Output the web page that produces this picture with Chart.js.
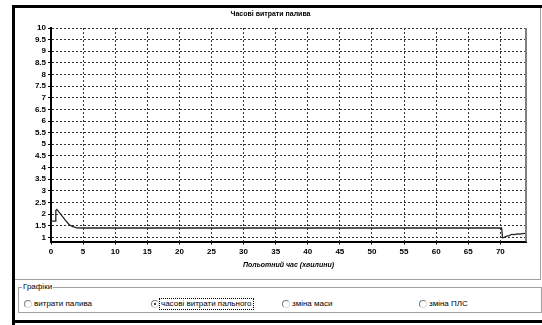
<!DOCTYPE html>
<html>
<head>
<meta charset="utf-8">
<script src="https://cdn.jsdelivr.net/npm/chart.js@4.4.1/dist/chart.umd.min.js"></script>
<style>
  html, body { margin:0; padding:0; background:#fff; width:542px; height:325px; overflow:hidden; font-family:"Liberation Sans", Arial, sans-serif; }
  #wrap { position:absolute; left:0; top:0; width:542px; height:325px; }
  .blk { position:absolute; background:#000; }
  #frame { position:absolute; left:15px; top:8px; width:525px; height:271px; border-right:1px solid #a0a0a0; border-bottom:1px solid #a0a0a0; }
  canvas#c { position:absolute; left:15px; top:8px; }
  #grp { position:absolute; left:18px; top:287px; width:522px; height:24px; border:1px solid #a0a0a0; }
  #grp .lg { position:absolute; left:3px; top:-6px; background:#fff; font-size:8px; line-height:10px; padding:0 1px; color:#000; }
  .rb { position:absolute; top:11px; font-size:8px; line-height:10px; color:#000; white-space:nowrap; }
  .rb .c { position:absolute; left:0; top:1px; width:6px; height:6px; border-radius:50%; border:1px solid #808080; border-right-color:#ddd; border-bottom-color:#ddd; background:#fff; }
  .rb .c.on::after { content:""; position:absolute; left:2px; top:2px; width:2px; height:2px; border-radius:50%; background:#000; }
  .rb .t { position:absolute; left:10px; top:0; }
  .rb .t.focus { outline:1px dotted #000; outline-offset:0; padding:0 1px; left:9px; }
</style>
</head>
<body>
<div id="wrap">
  <div id="frame"></div>
  <canvas id="c" width="524" height="272"></canvas>
  <div id="grp">
    <span class="lg">Графіки</span>
    <div class="rb" style="left:5px"><span class="c"></span><span class="t">витрати палива</span></div>
    <div class="rb" style="left:132px"><span class="c on"></span><span class="t focus">часові витрати пального</span></div>
    <div class="rb" style="left:263px"><span class="c"></span><span class="t">зміна маси</span></div>
    <div class="rb" style="left:400px"><span class="c"></span><span class="t">зміна ПЛС</span></div>
  </div>
  <div class="blk" style="left:12px;top:5px;width:3px;height:320px"></div>
  <div class="blk" style="left:12px;top:5px;width:530px;height:3px"></div>
  <div class="blk" style="left:12px;top:320px;width:530px;height:3px"></div>
</div>
<script>
// Data
const timeMin  = [0, 0, 0.7, 0.75, 0.9, 1.5, 2.2, 2.8, 3.3, 4.0, 4.8, 70.2, 70.35, 70.6, 71.0, 71.4, 71.8, 72.2, 72.6, 73.0, 73.4, 74.0];
const fuelRate = [1.0, 1.7, 1.7, 2.15, 2.2, 2.0, 1.75, 1.55, 1.47, 1.41, 1.4, 1.4, 0.98, 1.0, 1.05, 1.07, 1.13, 1.12, 1.15, 1.14, 1.16, 1.17];
const yTicks = [1, 1.5, 2, 2.5, 3, 3.5, 4, 4.5, 5, 5.5, 6, 6.5, 7, 7.5, 8, 8.5, 9, 9.5, 10];
const xTicks = [0, 5, 10, 15, 20, 25, 30, 35, 40, 45, 50, 55, 60, 65, 70];
const chartTitle = 'Часові витрати палива';
const xTitle = 'Польотний час (хвилини)';

const points = timeMin.map((t, i) => ({ x: t, y: fuelRate[i] }));

const rightBorder = {
  id: 'rightBorder',
  afterDraw(chart) {
    const a = chart.chartArea, ctx = chart.ctx;
    ctx.save();
    ctx.strokeStyle = '#808080';
    ctx.lineWidth = 2;
    ctx.beginPath();
    ctx.moveTo(a.right, a.top);
    ctx.lineTo(a.right, a.bottom);
    ctx.stroke();
    ctx.restore();
  }
};

const tickFont = { family: '"Liberation Sans", Arial, sans-serif', size: 8, weight: 'bold' };
const gridOpts = { color: '#333', lineWidth: 1, drawTicks: true, tickLength: 3, tickColor: '#000', tickBorderDash: [] };
const borderOpts = { color: '#000', width: 2, dash: [2, 2] };

new Chart(document.getElementById('c'), {
  type: 'line',
  data: {
    datasets: [{
      data: points,
      borderColor: '#222',
      borderWidth: 1.3,
      pointRadius: 0,
      tension: 0,
      fill: false
    }]
  },
  options: {
    responsive: false,
    animation: false,
    devicePixelRatio: 1,
    layout: { padding: { left: 0, right: 13, top: 0, bottom: 0 } },
    plugins: {
      legend: { display: false },
      tooltip: { enabled: false },
      title: {
        display: true,
        text: chartTitle,
        color: '#000',
        font: { family: '"Liberation Sans", Arial, sans-serif', size: 7, weight: 'bold' },
        padding: { top: 2, bottom: 9.6 }
      }
    },
    scales: {
      x: {
        type: 'linear',
        min: 0, max: 74,
        afterBuildTicks: s => { s.ticks = xTicks.map(v => ({ value: v })); },
        afterFit: s => { s.height = 38.5; },
        ticks: { color: '#000', font: tickFont, padding: 2, maxRotation: 0, autoSkip: false, callback: v => String(v) },
        grid: gridOpts,
        border: borderOpts,
        title: { display: true, text: xTitle, color: '#000', font: { family: '"Liberation Sans", Arial, sans-serif', size: 7, weight: 'bold', style: 'italic' }, padding: { top: 2, bottom: 11 } }
      },
      y: {
        type: 'linear',
        min: 0.82, max: 10,
        afterBuildTicks: s => { s.ticks = yTicks.map(v => ({ value: v })); },
        afterFit: s => { s.width = 36; },
        ticks: { color: '#000', font: tickFont, padding: 2, autoSkip: false, callback: v => String(v) },
        grid: gridOpts,
        border: borderOpts
      }
    }
  },
  plugins: [rightBorder]
});
</script>
</body>
</html>
